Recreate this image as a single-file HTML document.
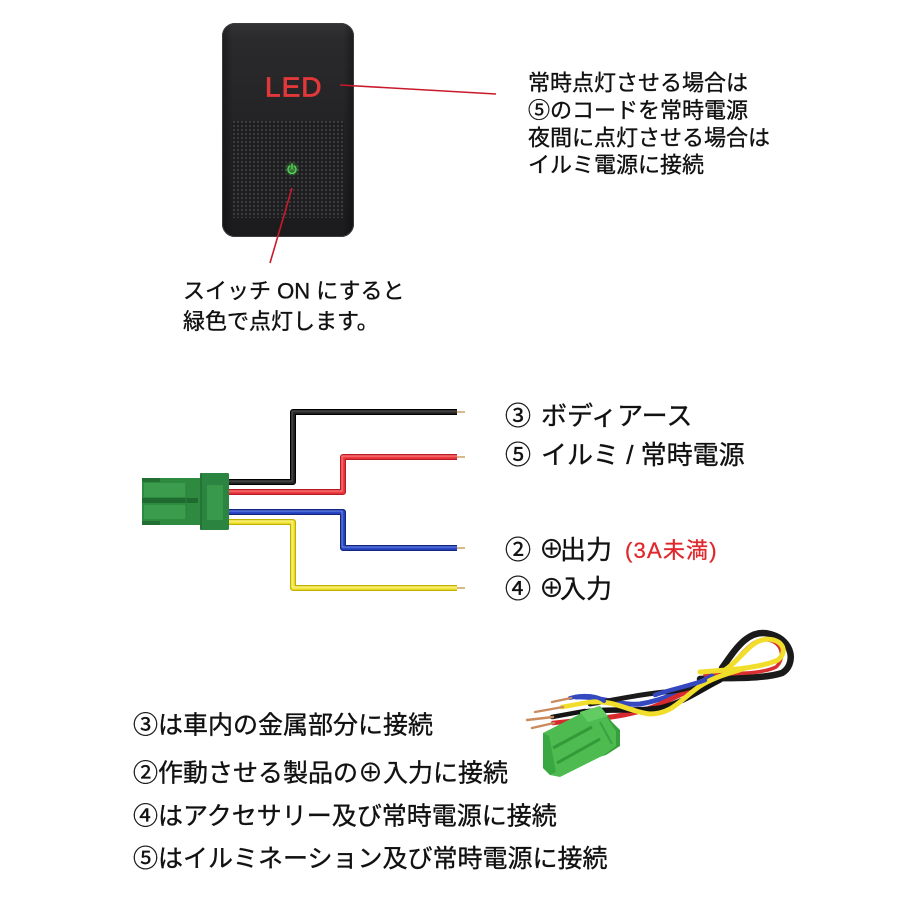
<!DOCTYPE html>
<html>
<head>
<meta charset="utf-8">
<style>
html,body{margin:0;padding:0;background:#fff;}
body{width:900px;height:900px;overflow:hidden;position:relative;}
svg{position:absolute;left:0;top:0;}
.t{font-family:"Liberation Sans","Noto Sans CJK JP",sans-serif;fill:#111;stroke:#111;stroke-width:0.35;}
</style>
</head>
<body>
<svg width="900" height="900" viewBox="0 0 900 900" xmlns="http://www.w3.org/2000/svg">
  <defs>
    <linearGradient id="swg" x1="0" y1="0" x2="0" y2="1">
      <stop offset="0" stop-color="#333335"/>
      <stop offset="0.08" stop-color="#2a2a2c"/>
      <stop offset="0.45" stop-color="#242426"/>
      <stop offset="1" stop-color="#1b1b1d"/>
    </linearGradient>
    <linearGradient id="swh" x1="0" y1="0" x2="1" y2="0">
      <stop offset="0" stop-color="#000" stop-opacity="0.35"/>
      <stop offset="0.08" stop-color="#000" stop-opacity="0"/>
      <stop offset="0.92" stop-color="#000" stop-opacity="0"/>
      <stop offset="1" stop-color="#000" stop-opacity="0.35"/>
    </linearGradient>
    <pattern id="dots" x="0" y="0" width="4" height="4" patternUnits="userSpaceOnUse">
      <rect width="4" height="4" fill="#1e1e20"/>
      <circle cx="2" cy="2" r="0.95" fill="#474749"/>
    </pattern>
    <radialGradient id="glow">
      <stop offset="0" stop-color="#5f5" stop-opacity="0.5"/>
      <stop offset="1" stop-color="#5f5" stop-opacity="0"/>
    </radialGradient>
  </defs>

  <!-- ===== Switch ===== -->
  <rect x="222" y="23" width="132" height="214" rx="13" fill="url(#swg)"/>
  <rect x="222" y="23" width="132" height="214" rx="13" fill="url(#swh)"/>
  <rect x="222.5" y="23.5" width="131" height="213" rx="12.5" fill="none" stroke="#3c3c3e" stroke-width="1"/>
  <rect x="232" y="121" width="112" height="97" fill="url(#dots)"/>
  <text x="265" y="96.5" font-family="Liberation Sans, sans-serif" font-size="28" fill="#e2383a" stroke="#e2383a" stroke-width="0.8" letter-spacing="1">LED</text>
  <!-- power icon -->
  <circle cx="292" cy="169" r="8" fill="url(#glow)"/>
  <path d="M289.6 166.2 A4 4 0 1 0 294.4 166.2" fill="none" stroke="#56d656" stroke-width="1.4" stroke-linecap="round"/>
  <line x1="292" y1="164" x2="292" y2="168.5" stroke="#56d656" stroke-width="1.4" stroke-linecap="round"/>

  <!-- red leader lines -->
  <line x1="340" y1="85" x2="496" y2="94" stroke="#c81a2a" stroke-width="1.6"/>
  <line x1="292" y1="188" x2="270" y2="263" stroke="#c81a2a" stroke-width="1.6"/>

  <!-- top right text -->
  <text class="t" font-size="22" x="528" y="90.5">常時点灯させる場合は</text>
  <text class="t" font-size="22" x="528" y="118">⑤のコードを常時電源</text>
  <text class="t" font-size="22" x="528" y="145.5">夜間に点灯させる場合は</text>
  <text class="t" font-size="22" x="528" y="172.5">イルミ電源に接続</text>

  <!-- switch caption -->
  <text class="t" font-size="22" x="183" y="298.5">スイッチ ON にすると</text>
  <text class="t" font-size="22" x="183" y="329">緑色で点灯します。</text>

  <!-- ===== Wiring diagram ===== -->
  <g fill="none" stroke-linejoin="round" stroke-linecap="butt">
    <!-- black -->
    <path d="M229 482 H293 V412 H457" stroke="#000" stroke-width="6"/>
    <path d="M229 482 H293 V412 H457" stroke="#2a2a2a" stroke-width="3.5"/>
    <path d="M229 481 H292 V411 H457" stroke="#555" stroke-width="1"/>
    <!-- red -->
    <path d="M229 492 H343 V457 H457" stroke="#b71c24" stroke-width="6"/>
    <path d="M229 492 H343 V457 H457" stroke="#ee3a40" stroke-width="3.5"/>
    <path d="M229 491 H342 V456 H457" stroke="#ff8a8a" stroke-width="1"/>
    <!-- blue -->
    <path d="M229 512 H343 V548 H457" stroke="#12267e" stroke-width="6"/>
    <path d="M229 512 H343 V548 H457" stroke="#2a48c6" stroke-width="3.5"/>
    <path d="M229 511 H342 V547 H457" stroke="#6f86e6" stroke-width="1"/>
    <!-- yellow -->
    <path d="M229 522 H293 V588 H457" stroke="#c2b000" stroke-width="6"/>
    <path d="M229 522 H293 V588 H457" stroke="#f3e63a" stroke-width="3.5"/>
    <path d="M229 521 H292 V587 H457" stroke="#fff59a" stroke-width="1"/>
    <!-- tips -->
    <g stroke="#d9b88e" stroke-width="2">
      <line x1="457" y1="412" x2="465" y2="412"/>
      <line x1="457" y1="457" x2="465" y2="457"/>
      <line x1="457" y1="548" x2="465" y2="548"/>
      <line x1="457" y1="588" x2="465" y2="588"/>
    </g>
  </g>
  <!-- connector -->
  <rect x="142" y="478" width="60" height="47" rx="1.5" fill="#2e8a3f"/>
  <rect x="200" y="473" width="29" height="57" rx="1.5" fill="#2b8540"/>
  <rect x="207" y="485" width="16" height="35" fill="#38994b"/>
  <rect x="144" y="483" width="42" height="14" fill="#3a9c4c"/>
  <rect x="144" y="505" width="42" height="14" fill="#3a9c4c"/>
  <rect x="142" y="498" width="56" height="5" fill="#1f6a2f"/>
  <rect x="142" y="478" width="18" height="4" fill="#226f33"/>
  <rect x="142" y="521" width="18" height="4" fill="#226f33"/>
  <line x1="186" y1="483" x2="186" y2="519" stroke="#2a8038" stroke-width="1"/>
  <line x1="201" y1="473" x2="201" y2="530" stroke="#1e6a2f" stroke-width="1.2"/>

  <!-- wiring labels -->
  <text class="t" font-size="26" x="505" y="425">③</text>
  <text class="t" font-size="26" x="541" y="425">ボディアース</text>
  <text class="t" font-size="26" x="505" y="464">⑤</text>
  <text class="t" font-size="26" x="541" y="464">イルミ / 常時電源</text>
  <text class="t" font-size="26" x="505" y="559">②</text>
  <text class="t" font-size="25" x="539" y="558">⊕</text>
  <text class="t" font-size="26" x="560" y="559">出力</text>
  <text font-family="Liberation Sans, Noto Sans CJK JP, sans-serif" font-size="22" x="625" y="558" fill="#e0282c" stroke="#e0282c" stroke-width="0.3" letter-spacing="1.2">(3A未満)</text>
  <text class="t" font-size="26" x="505" y="598">④</text>
  <text class="t" font-size="25" x="539" y="597">⊕</text>
  <text class="t" font-size="26" x="560" y="598">入力</text>

  <!-- ===== Harness photo ===== -->
  <g fill="none" stroke-linecap="round">
    <!-- loop back wires -->
    <path d="M700 679 C725 677, 760 680, 782 673 C796 665, 794 640, 770 634 C748 628, 735 650, 722 668" stroke="#1a1a1a" stroke-width="6.5"/>
    <path d="M705 675 C730 673, 760 675, 776 667 C786 658, 782 642, 768 640 C752 637, 742 655, 730 666" stroke="#d83030" stroke-width="3.5"/>
    <path d="M700 672 C730 670, 760 668, 778 660 C790 650, 780 636, 762 640 C748 644, 740 660, 725 670" stroke="#f0de2a" stroke-width="5"/>
    <!-- bundle: blue -->
    <path d="M576 697 C600 696, 620 706, 640 704 C665 700, 690 688, 712 676" stroke="#3548c0" stroke-width="5"/>
    <!-- red -->
    <path d="M582 720 C610 718, 640 714, 665 702 C685 692, 700 686, 720 676" stroke="#d82a2e" stroke-width="5"/>
    <!-- black -->
    <path d="M585 712 C610 708, 635 712, 660 708 C685 702, 700 690, 720 680" stroke="#141414" stroke-width="5.5"/>
    <path d="M590 704 C615 700, 640 694, 665 692 C690 690, 705 682, 725 675" stroke="#1a1a1a" stroke-width="5"/>
    <!-- yellow over -->
    <path d="M592 702 C615 700, 630 712, 650 714 C672 714, 680 700, 700 686 C715 676, 735 672, 745 668" stroke="#f0de2a" stroke-width="5"/>
    <path d="M655 695 C675 688, 690 686, 705 680" stroke="#3548c0" stroke-width="4.5"/>
    <!-- wire stubs -->
    <path d="M562 707 L590 702" stroke="#f0de2a" stroke-width="4.5"/>
    <path d="M552 717 L585 711" stroke="#141414" stroke-width="4.5"/>
    <path d="M553 723 L580 720" stroke="#d82a2e" stroke-width="4.5"/>
    <path d="M570 698 C585 694, 598 696, 604 701" stroke="#3548c0" stroke-width="4"/>
    <!-- copper -->
    <g stroke="#c98a5c" stroke-width="2.4">
      <path d="M552 702 L571 698"/>
      <path d="M535 712 L563 707"/>
      <path d="M527 720 L553 717"/>
      <path d="M532 728 L554 723"/>
    </g>
  </g>
  <!-- green connector (photo) -->
  <polygon points="600,706 612,722 620,730 620,746 606,755 596,758 590,720" fill="#35a03c"/>
  <polygon points="543,733 580,714 580,712 600,706 610,722 616,731 616,746 604,755 560,777 550,775 543,768" fill="#4dbb50"/>
  <polygon points="580,712 600,706 608,716 588,722" fill="#62cc62"/>
  <polygon points="550,775 543,768 543,733 549,736 556,772" fill="#3aa842"/>
  <path d="M553 748 L592 727" stroke="#339a3a" stroke-width="3"/>
  <path d="M557 763 L600 739" stroke="#339a3a" stroke-width="3"/>
  <path d="M600 722 L612 744" stroke="#3aa23f" stroke-width="2"/>

  <!-- bottom text -->
  <text class="t" font-size="25" x="133" y="733.5">③は車内の金属部分に接続</text>
  <text class="t" font-size="25" x="133" y="781.5">②作動させる製品の⊕入力に接続</text>
  <text class="t" font-size="25" x="133" y="824.5">④はアクセサリー及び常時電源に接続</text>
  <text class="t" font-size="25" x="133" y="867">⑤はイルミネーション及び常時電源に接続</text>
</svg>
</body>
</html>
